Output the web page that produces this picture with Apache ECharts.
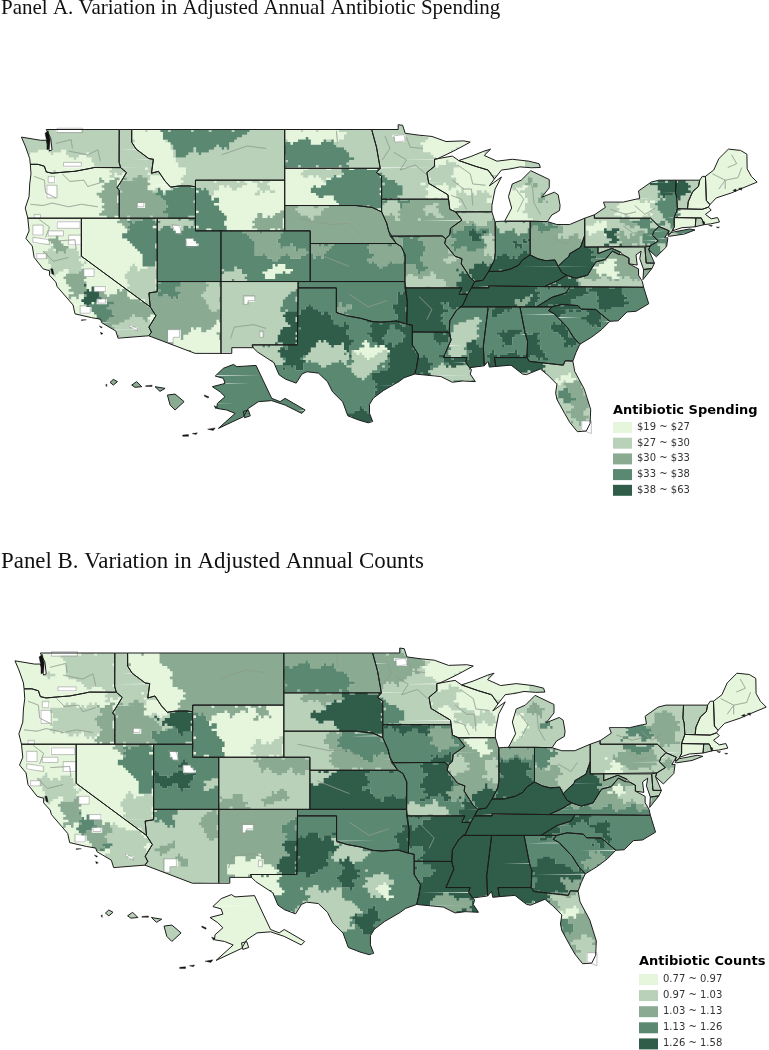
<!DOCTYPE html>
<html><head><meta charset="utf-8">
<style>html,body{margin:0;padding:0;background:#fff}#c{width:769px;height:1050px}</style>
<script src="https://cdn.jsdelivr.net/npm/echarts@6/dist/echarts.min.js"></script></head>
<body><div id="c"></div>
<script>
const titles=['Panel A. Variation in Adjusted Annual Antibiotic Spending','Panel B. Variation in Adjusted Annual Counts'];
const legendTitles=['Antibiotic Spending','Antibiotic Counts'];
const labelsA=['$19 ~ $27','$27 ~ $30','$30 ~ $33','$33 ~ $38','$38 ~ $63'];
const labelsB=['0.77 ~ 0.97','0.97 ~ 1.03','1.03 ~ 1.13','1.13 ~ 1.26','1.26 ~ 1.58'];
const classColors=['#e5f6dc','#b8d1b8','#8aab92','#5b8870','#2f5d4a'];
const stateNames=['WA','OR','CA','NV','ID','MT','WY','UT','AZ','CO','NM','ND','SD','NE','KS','OK','TX','MN','IA','MO','AR','LA','WI','IL','MI','IN','OH','KY','TN','MS','AL','GA','FL','SC','NC','VA','WV','MD','DE','PA','NJ','NY','CT','RI','MA','VT','NH','ME','AK','HI'];
const baseA=[1,0,0,0,1,1,0,3,2,3,1,1,0,2,3,3,3,1,2,2,4,3,0,2,1,3,2,4,4,3,3,3,1,3,3,2,4,1,2,1,3,1,0,1,0,1,0,0,3,2];
const baseB=[0,0,0,0,1,2,0,3,1,1,2,2,1,1,4,3,3,1,3,3,4,4,0,2,1,3,1,4,4,4,4,3,2,3,3,2,4,1,1,1,1,1,0,1,0,1,0,0,0,1];
// State outlines, [lon,lat,...]; AK and HI are given in their inset position.
const rings={
WA:[[-124.7,48.4,-123.2,48.15,-122.75,48.15,-122.5,47.3,-122.3,47.4,-122.4,48.3,-122.75,49,-117.03,49,-117.04,46.42,-116.92,45.99,-118.98,46,-119.3,45.93,-120.5,45.7,-121.2,45.65,-122.3,45.55,-122.75,45.65,-122.9,46.1,-123.4,46.25,-124,46.25,-124.05,46.7,-124.15,47,-124.4,47.7]],
OR:[[-124,46.25,-123.4,46.25,-122.9,46.1,-122.75,45.65,-122.3,45.55,-121.2,45.65,-120.5,45.7,-119.3,45.93,-118.98,46,-116.92,45.99,-116.46,45.6,-116.85,44.95,-117.2,44.4,-117.03,44.2,-117.03,42,-124.2,42,-124.4,42.8,-124.1,43.7,-124.05,44.7,-123.95,45.5]],
CA:[[-124.2,42,-120,42,-120,39,-114.6,35,-114.15,34.3,-114.7,33.4,-114.5,33,-114.72,32.72,-117.12,32.53,-117.3,33.1,-118.4,33.75,-118.5,34.03,-119.2,34.15,-120.5,34.45,-120.65,35.15,-121.9,36.6,-122,36.95,-122.5,37.5,-122.5,37.85,-123,38,-123.7,38.9,-123.85,39.8,-124.35,40.4,-124.1,41]],
NV:[[-120,42,-114.05,42,-114.05,36.2,-114.7,36.1,-114.6,35,-120,39]],
ID:[[-117.03,49,-116.05,49,-116.05,48,-115.7,47.45,-114.7,46.7,-114.35,46.65,-114.5,45.55,-113.95,45.7,-113.45,44.95,-113,44.45,-112.3,44.55,-111.5,44.55,-111.05,44.48,-111.05,42,-117.03,42,-117.03,44.2,-117.2,44.4,-116.85,44.95,-116.46,45.6,-116.92,45.99,-117.04,46.42]],
MT:[[-116.05,49,-104.05,49,-104.05,45,-111.05,45,-111.05,44.48,-111.5,44.55,-112.3,44.55,-113,44.45,-113.45,44.95,-113.95,45.7,-114.5,45.55,-114.35,46.65,-114.7,46.7,-115.7,47.45,-116.05,48]],
WY:[[-111.05,45,-104.05,45,-104.05,41,-111.05,41]],
UT:[[-114.05,42,-111.05,42,-111.05,41,-109.05,41,-109.05,37,-114.05,37]],
AZ:[[-114.05,37,-109.05,37,-109.05,31.33,-111.07,31.33,-114.72,32.72,-114.5,33,-114.7,33.4,-114.15,34.3,-114.6,35,-114.7,36.1,-114.05,36.2]],
CO:[[-109.05,41,-102.05,41,-102.05,37,-109.05,37]],
NM:[[-109.05,37,-103,37,-103.05,32,-106.6,32,-106.53,31.78,-108.2,31.78,-108.2,31.33,-109.05,31.33]],
ND:[[-104.05,49,-97.23,49,-96.85,47.6,-96.56,45.94,-104.05,45.94]],
SD:[[-104.05,45.94,-96.56,45.94,-96.85,45.6,-96.45,45.3,-96.45,43.5,-96.45,42.5,-97.2,42.85,-98.5,43,-104.05,43]],
NE:[[-104.05,43,-98.5,43,-97.2,42.85,-96.45,42.5,-96.05,41.6,-95.9,41,-95.3,40,-102.05,40,-102.05,41,-104.05,41]],
KS:[[-102.05,40,-95.3,40,-94.9,39.75,-94.6,39.1,-94.62,37,-102.05,37]],
OK:[[-103,37,-94.62,37,-94.43,35.4,-94.48,33.64,-95.3,33.88,-96.5,33.8,-97.2,33.85,-98.1,34.1,-99.2,34.3,-100,34.56,-100,36.5,-103,36.5]],
TX:[[-103,36.5,-100,36.5,-100,34.56,-99.2,34.3,-98.1,34.1,-97.2,33.85,-96.5,33.8,-95.3,33.88,-94.48,33.64,-94.04,33.55,-94.04,32,-93.55,31.2,-93.7,30.3,-93.85,29.7,-94.7,29.4,-95.1,29.1,-96.3,28.4,-97.1,27.8,-97.4,27.3,-97.4,26.6,-97.15,25.95,-97.5,25.85,-98.2,26.05,-99.1,26.4,-99.5,27.5,-100.3,28.3,-100.7,29.1,-101.4,29.77,-102.3,29.88,-102.7,29.7,-103.15,28.98,-104,29.3,-104.5,29.65,-104.9,30.6,-106.2,31.45,-106.53,31.78,-106.6,32,-103.05,32]],
MN:[[-97.23,49,-95.15,49,-95.15,49.38,-94.8,49.33,-94.6,48.7,-93.5,48.55,-92.5,48.45,-91.4,48.05,-90,48.1,-89.5,48,-90.8,47.3,-92.05,46.7,-92.3,46.65,-92.3,46.1,-92.9,45.6,-92.75,44.75,-91.25,43.85,-91.2,43.5,-96.45,43.5,-96.45,45.3,-96.85,45.6,-96.56,45.94,-96.85,47.6]],
IA:[[-96.45,43.5,-91.2,43.5,-91.1,42.7,-90.65,42.5,-90.15,41.85,-91.05,41.2,-91.1,40.7,-91.42,40.38,-91.7,40.6,-95.77,40.58,-95.9,41,-96.05,41.6,-96.45,42.5]],
MO:[[-95.77,40.58,-91.7,40.6,-91.42,40.38,-91.5,40,-90.7,39,-90.15,38.8,-90.2,38.4,-89.5,37.3,-89.15,37,-89.4,36.5,-89.7,36,-90.37,36,-90.15,36.5,-94.62,36.5,-94.62,39.1,-94.9,39.75,-95.3,40]],
AR:[[-94.62,36.5,-90.15,36.5,-90.37,36,-89.7,36,-90.1,35.1,-90.6,34.7,-91.1,33.9,-91.15,33,-94.04,33.02,-94.04,33.55,-94.48,33.64,-94.43,35.4]],
LA:[[-94.04,33.02,-91.15,33,-91,32.4,-91.6,31,-89.75,31,-89.85,30.65,-89.55,30.2,-89.4,30.05,-89.5,29.7,-89.1,29.1,-90.1,29.15,-90.9,29.05,-91.8,29.5,-92.3,29.55,-93.85,29.7,-93.7,30.3,-93.55,31.2,-94.04,32]],
WI:[[-92.3,46.65,-92.05,46.7,-90.9,46.9,-90.4,46.55,-89.1,46.1,-88.1,45.8,-87.6,45.1,-88,44.55,-87.05,45.25,-87.55,44.3,-87.8,43,-87.8,42.5,-90.65,42.5,-91.1,42.7,-91.2,43.5,-91.25,43.85,-92.75,44.75,-92.9,45.6,-92.3,46.1]],
IL:[[-90.65,42.5,-87.8,42.5,-87.55,41.7,-87.53,39.3,-87.6,38.7,-88.05,37.8,-88.5,37.1,-89.15,37,-89.5,37.3,-90.2,38.4,-90.15,38.8,-90.7,39,-91.5,40,-91.42,40.38,-91.1,40.7,-91.05,41.2,-90.15,41.85]],
MI:[[-86.8,41.76,-84.8,41.76,-83.45,41.73,-83.1,42.25,-82.5,42.6,-82.45,43,-82.6,43.85,-82.9,44.05,-83.9,43.65,-83.3,44.4,-83.3,45.05,-84.75,45.75,-85.5,45,-86.2,44.7,-86.5,43.7,-86.25,42.8],[-90.4,46.55,-89.5,46.85,-88.4,47.3,-87.9,47.45,-88.4,46.95,-87.4,46.5,-86.2,46.65,-84.9,46.5,-84.1,46.3,-84,46,-84.7,45.98,-85.6,46.05,-86.3,45.9,-87.05,45.8,-87.6,45.1,-88.1,45.8,-89.1,46.1]],
IN:[[-87.53,41.72,-87.2,41.75,-86.8,41.76,-84.8,41.76,-84.8,39.1,-85.4,38.7,-85.7,38.3,-86.3,38,-87.1,37.8,-88.05,37.8,-87.6,38.7,-87.53,39.3]],
OH:[[-84.8,41.76,-83.45,41.73,-82.7,41.5,-81.7,41.5,-80.52,42,-80.52,40.64,-80.85,39.7,-81.7,39.2,-81.75,39,-82.2,38.6,-82.6,38.2,-82.85,38.7,-83.6,38.65,-84.2,38.8,-84.8,39.1]],
KY:[[-89.15,37,-88.5,37.1,-88.05,37.8,-87.1,37.8,-86.3,38,-85.7,38.3,-85.4,38.7,-84.8,39.1,-84.2,38.8,-83.6,38.65,-82.85,38.7,-82.6,38.2,-82.3,37.7,-81.95,37.5,-82.7,37.05,-83.68,36.6,-88.05,36.65,-88.05,36.5,-89.4,36.5]],
TN:[[-89.4,36.5,-88.05,36.5,-88.05,36.65,-83.68,36.6,-81.68,36.59,-82,36.1,-83.1,35.75,-84.3,35,-85.6,35,-88.2,35,-90.3,35,-90.1,35.1,-89.7,36]],
MS:[[-90.3,35,-88.2,35,-88.1,34.9,-88.47,31.9,-88.4,30.35,-89.55,30.2,-89.85,30.65,-89.75,31,-91.6,31,-91,32.4,-91.15,33,-91.1,33.9,-90.6,34.7]],
AL:[[-88.2,35,-85.6,35,-85.18,32.85,-85,32.3,-85.05,31,-87.6,31,-87.5,30.3,-88,30.25,-88.1,30.7,-88.4,30.35,-88.47,31.9,-88.1,34.9]],
GA:[[-85.6,35,-84.3,35,-83.1,35,-83.35,34.7,-82.9,34.45,-81.9,33.4,-81.4,32.6,-80.9,32.05,-81.2,31.4,-81.45,30.72,-82.05,30.75,-82.2,30.4,-84.86,30.7,-85.05,31,-85,32.3,-85.18,32.85]],
FL:[[-87.6,31,-85.05,31,-84.86,30.7,-82.2,30.4,-82.05,30.75,-81.45,30.72,-81.3,29.9,-80.55,28.5,-80.05,26.9,-80.1,25.8,-80.4,25.2,-81.1,25.15,-81.7,25.9,-82.1,26.6,-82.7,27.7,-82.8,28.2,-82.7,28.9,-83.4,29.6,-84,30.1,-85.1,29.65,-85.4,29.7,-86.3,30.4,-87.5,30.3]],
SC:[[-83.1,35,-82.3,35.2,-81.05,35.1,-80.8,34.82,-79.67,34.8,-78.55,33.86,-79.2,33.2,-80,32.6,-80.9,32.05,-81.4,32.6,-81.9,33.4,-82.9,34.45,-83.35,34.7]],
NC:[[-84.3,35,-83.1,35.75,-82,36.1,-81.68,36.59,-75.9,36.55,-75.5,35.25,-76.5,34.65,-77.2,34.6,-77.9,33.9,-78.55,33.86,-79.67,34.8,-80.8,34.82,-81.05,35.1,-82.3,35.2,-83.1,35]],
VA:[[-83.68,36.6,-81.68,36.59,-75.9,36.55,-76,37,-76.3,37.5,-76.3,38,-77.05,38.4,-77.05,38.85,-77.5,39.1,-77.83,39.13,-78.35,39.4,-78.9,38.75,-79.65,38.55,-80.3,37.5,-81.2,37.25,-81.95,37.5,-82.7,37.05],[-75.25,38.03,-75.9,37.95,-75.95,37.15]],
WV:[[-81.95,37.5,-81.2,37.25,-80.3,37.5,-79.65,38.55,-78.9,38.75,-78.35,39.4,-77.83,39.13,-77.72,39.32,-78.4,39.62,-79.48,39.2,-79.48,39.72,-80.52,39.72,-80.52,40.64,-80.85,39.7,-81.7,39.2,-81.75,39,-82.2,38.6,-82.6,38.2,-82.3,37.7]],
MD:[[-79.48,39.72,-75.8,39.72,-75.7,38.46,-75.05,38.45,-75.25,38.03,-75.9,37.95,-76.2,38.8,-76.1,39.4,-76.5,39.1,-76.4,38.3,-77.05,38.4,-77.05,38.85,-77.5,39.1,-77.72,39.32,-78.4,39.62,-79.48,39.2]],
DE:[[-75.8,39.72,-75.4,39.8,-75.5,39.5,-75.05,38.45,-75.7,38.46]],
PA:[[-80.52,42,-79.76,42.27,-79.76,42,-75.35,42,-74.7,41.35,-75.1,40.95,-75.2,40.65,-74.75,40.2,-75.4,39.8,-80.52,39.72]],
NJ:[[-74.7,41.35,-73.9,41,-74.25,40.45,-74,40.45,-74.1,39.75,-74.9,38.95,-75.5,39.5,-75.4,39.8,-74.75,40.2,-75.2,40.65,-75.1,40.95]],
NY:[[-79.76,42.27,-78.9,42.85,-79.05,43.27,-77.5,43.27,-76.5,43.5,-76.2,43.55,-76.3,44.15,-75.3,44.85,-74.7,45,-73.35,45,-73.4,44,-73.3,43.6,-73.25,42.75,-73.5,42.05,-73.5,41.3,-73.65,41,-73.8,40.8,-74,40.7,-73.9,41,-74.7,41.35,-75.35,42,-79.76,42],[-74,40.6,-73.75,40.87,-72.3,41.15,-71.87,41.07,-72.7,40.75,-73.9,40.57]],
CT:[[-73.5,42.05,-71.8,42.02,-71.85,41.32,-72.9,41.25,-73.65,41,-73.5,41.3]],
RI:[[-71.8,42.02,-71.38,42.02,-71.12,41.5,-71.85,41.32]],
MA:[[-73.5,42.05,-73.25,42.75,-72.46,42.73,-71.3,42.7,-70.82,42.87,-70.6,42.65,-71.05,42.3,-70.6,41.95,-70.1,42.05,-69.95,41.7,-70.65,41.55,-71.12,41.5,-71.38,42.02,-71.8,42.02]],
VT:[[-73.35,45,-71.5,45,-71.6,44.5,-72.05,44.1,-72.4,43.3,-72.46,42.73,-73.25,42.75,-73.3,43.6,-73.4,44]],
NH:[[-71.5,45,-71.3,45.3,-71.05,45.3,-70.98,43.4,-70.7,43.07,-70.82,42.87,-71.3,42.7,-72.46,42.73,-72.4,43.3,-72.05,44.1,-71.6,44.5]],
ME:[[-71.05,45.3,-70.4,45.8,-70,46.7,-69.25,47.45,-68.3,47.35,-67.8,47.05,-67.78,45.9,-67.45,45.3,-67,44.85,-68.2,44.35,-69,44,-70.2,43.6,-70.7,43.07,-70.98,43.4]],
AK:[[-109.5,29.54,-108.86,30.15,-108.07,30.46,-107.8,30.28,-106.3,30.38,-105.07,27.78,-104.41,27.52,-104.02,27.78,-102.45,26.86,-102.71,26.59,-104.02,27.25,-105.07,27.6,-106.11,27.52,-106.9,26.99,-107.29,26.33,-109.25,25.41,-107.94,26.59,-108.6,26.86,-109.38,26.99,-109.33,27.38,-108.73,27.91,-109.12,28.3,-109.72,28.7,-108.73,28.96,-108.86,29.36],[-107.3,26.75,-106.9,26.85,-106.75,26.4,-107.2,26.25]],
HI:[[-113.25,28.04,-112.65,28.12,-111.94,27.52,-112.65,26.86,-113.04,27.25],[-114.22,28.7,-113.43,28.57,-113.83,28.33],[-116.05,28.83,-115.66,29.1,-115.26,28.7,-115.79,28.65],[-117.75,29.04,-117.49,29.28,-117.17,29.1,-117.49,28.83]]
};
// Black-looking islands and sounds.
const islands=[[-122.85,48.7,-122.6,48.9,-122.45,48.2,-122.5,47.5,-122.7,47.4,-122.7,48],[-112.05,24.88,-111.6,24.92,-111.6,24.78,-112.05,24.78],[-111.3,25,-110.9,25.06,-111,24.92],[-110.1,25.35,-109.5,25.45,-109.65,25.25],[-110.35,28.05,-110,27.9,-110.05,27.8,-110.35,27.95],[-109.6,27.2,-109.35,27.1,-109.45,26.95],[-118.1,28.85,-118,28.9,-118,28.7],[-114.95,28.78,-114.45,28.82,-114.45,28.72,-114.95,28.72],[-120,33.98,-119.6,33.98,-119.6,33.92,-120,33.92],[-118.6,33.5,-118.35,33.4,-118.45,33.33],[-118.5,33,-118.3,32.9,-118.45,32.82],[-68.9,44.2,-68.65,44.3,-68.65,44.1],[-68.45,44.35,-68.2,44.4,-68.22,44.2],[-71.3,41.75,-71.1,41.7,-71.2,41.45],[-70.8,41.45,-70.5,41.42,-70.6,41.35],[-70.2,41.3,-69.95,41.3,-70.05,41.22],[-122.4,38,-122.25,38,-122.15,37.55,-122.3,37.6]];
// Holes without data, common to both panels.
const holes=[
['WA',-121.4,46.4,-120,46.4,-120,46.1,-121.4,46.1],['WA',-121.9,49.1,-119.9,49.1,-119.9,48.75,-121.9,48.75],
['OR',-122.6,45.3,-122.1,45.3,-122.1,44.8,-122.6,44.8],['OR',-122.7,44.6,-121.9,44.6,-121.9,43.6,-122.7,43.6],['OR',-123.7,42.3,-123.2,42.3,-123.2,42,-123.7,42],
['CA',-121.9,41.72,-120.1,41.72,-120.1,41.2,-121.9,41.2],['CA',-123.8,41.46,-123,41.46,-123,40.67,-123.8,40.67],['CA',-122.6,41,-121.4,41,-121.4,40.6,-122.6,40.6],['CA',-121,40.67,-120,40.67,-120,39.9,-121,39.9],['CA',-123.8,40.5,-122.5,40.3,-122.5,39.9,-123.8,40.1],['CA',-123.5,39.2,-122.7,39.2,-122.7,38.8,-123.5,38.8],['CA',-119.8,38,-119,38,-119,37.4,-119.8,37.4],['CA',-120.1,35.1,-119.3,35.1,-119.3,34.5,-120.1,34.5],['CA',-119,36.6,-118.1,36.6,-118.1,36.2,-119,36.2],['CA',-118.7,35.7,-118.1,35.7,-118.1,35.3,-118.7,35.3],['CA',-116.2,33.6,-115.6,33.3,-115.6,33.1,-116.2,33.4],
['UT',-112.9,41.5,-112.3,41.4,-112.1,40.7,-112.6,40.8],['UT',-111.8,40.4,-111.3,40.4,-110.8,39.8,-111.7,39.7],
['ID',-115.6,43.3,-115.1,43.3,-115.1,42.9,-115.6,42.9],
['AZ',-113.3,33.2,-112.3,33.2,-112.3,32.6,-112.8,32.6,-112.8,32.1,-113.3,32.2],
['NM',-107.3,35.9,-106.4,35.9,-106.4,35.5,-106.9,35.5,-106.9,35.2,-107.3,35.2],['NM',-106,33.1,-105.7,33.1,-105.7,32.6,-106,32.6],
['MN',-95.5,48.5,-94.7,48.6,-94.6,48.1,-95.4,48],
['FL',-80.75,26,-80,26,-80,25,-80.75,25.3]
];
// Thin grey service-area lines.
const areaLines=[
[-122,47.9,-120.8,48.2,-120.7,47.5],[-121,47.3,-119.5,47,-118.7,47.4,-118.5,46.5],
[-124,43.1,-123,43,-122.3,43.2,-121,42.9,-120,43.1,-118.7,42.9],[-123.7,45.3,-122.9,45,-122.8,44,-122,43.6],[-121.5,45.5,-120.9,44.9,-119.8,45,-119.5,44.5,-118.5,44.8],
[-123.3,41.9,-122.5,41.3,-122.8,40.5],[-122,40.2,-120.5,40.3,-120.4,39.5],[-123,39.4,-122.2,38.6,-121,38.9],
[-95.5,47.2,-94.5,46.6,-95,45.8,-93.8,46.2,-93,45.5],[-96.2,48.5,-95.8,47.5,-96.4,46.6],[-94.5,48.4,-94.2,47.6,-93.2,47.5],
[-90.5,46.2,-89.5,45.5,-89.3,44.7,-88.3,44.6],[-90.9,45,-90,44.3,-89.4,44.3,-89.3,43],[-91,43.8,-90.2,43.5,-89.8,42.7],
[-86,44.4,-85.3,43.5,-85.8,42.5],[-84.9,45.3,-84.6,44.3,-84.5,43.2,-84,42.3],
[-70.5,45.5,-69.5,45,-68.5,45.2,-68.2,46],[-69.5,44.3,-69.5,45,-70,44.3],[-69,47,-68.6,46.3,-69.3,46],
[-103,42,-100.5,41.5,-99,41.6,-98,40.6],[-99,36,-97.5,35,-96,35.5],[-109,47,-107,47.7,-105.5,47.5],[-100,48.9,-99.9,47.9],
[-93.5,35.8,-92.5,34.8,-92.9,34],[-105.5,33.3,-106.5,33.6,-108,33.4,-108.3,32.5],[-101.5,39.2,-100,38.6,-99,38.2],
[-76.6,43,-75.8,42.3,-75,42.8],[-78.5,42.7,-77.3,42.3,-76.5,42.5],[-77.5,41.4,-76.7,40.8,-76,41],[-83,40.5,-82,39.9,-81.5,40.6]
];
// Zones, [state, class, lon,lat,...]; later zones paint over earlier ones in their state.
const zonesA=[
['WA',0,-125,47.2,-121.4,47.3,-120.8,46.8,-119.3,46.9,-119,45.5,-125,45.5],
['OR',2,-118.5,45,-117,45,-117,41.9,-118.2,41.9,-118.4,43],['OR',1,-118,46.1,-116.8,46.1,-116.8,45.3,-117.6,45.4],
['NV',3,-116.6,41.07,-115.8,41.85,-114,41.85,-114,37.9,-114.9,38.15,-115.15,39.2,-115.8,39.2,-115.9,40.1,-116.6,40.5],['NV',2,-117,42.1,-114,42.1,-114,41.85,-115.8,41.85,-116.6,41.1,-117,41.3],['NV',1,-116.4,38,-115,38.2,-114,38,-114,35,-115.5,35.5,-116.4,36.5],
['CA',2,-122.5,40.2,-121.2,40.3,-121,39.4,-122.2,39.2],['CA',1,-123,39.4,-120.5,39.5,-119.5,38.3,-120.5,37.8,-122.5,37.7],['CA',2,-121.2,37.8,-120,37.8,-119.5,36.5,-120.3,35.5,-121,36.3],['CA',2,-118.9,36,-116.5,36.2,-114.5,34.9,-114.5,32.4,-117.5,32.4,-118.7,34.2],['CA',3,-119.1,35.2,-117.7,35.6,-117.5,34.3,-118.5,33.7,-119.3,34.3],['CA',1,-117.1,34.1,-114.5,34.1,-114.5,32.4,-117.4,32.4],['CA',4,-119.9,36.2,-119,36.8,-118.7,36.3,-118.7,35.4,-119.3,35.1,-119.9,35.6],
['ID',2,-117.2,45.1,-115.3,45.3,-114.6,44.9,-114.4,44.2,-113.9,43.8,-113.7,43.4,-112.8,43,-112.8,41.9,-117.2,41.9],['ID',3,-114.3,44,-113.4,44,-112.9,44.4,-112.3,44.6,-110.9,44.6,-110.9,41.9,-113.2,41.9,-113.2,42.5,-113.5,43.2],['ID',0,-114.8,45.7,-114.2,45.7,-113.4,45,-112.9,44.4,-113.4,44.1,-114.4,44.3,-114.8,45],
['MT',0,-116.1,49.1,-113.8,49.1,-113.2,48.3,-113,47,-112.4,46.5,-112,45.8,-111.9,44.8,-112.5,44.2,-114,45,-116.1,47.5],['MT',3,-114,49.1,-107.1,49.1,-107.2,48.3,-108.6,48.1,-108.5,47.6,-110.5,47.3,-112.2,46.9,-113,47.3,-113.1,48.3],
['WY',1,-111.1,45.1,-107.2,45.1,-107.2,44.5,-109.5,44.3,-110,44.1,-111.1,44.3],['WY',1,-106.3,45.1,-105.1,45.1,-105.2,44,-106.3,44],['WY',3,-111.1,44.3,-110.1,44.1,-109.4,43.2,-108.98,42.65,-108.4,41,-111.1,41],['WY',2,-105.8,42.2,-104,42.4,-104,41,-107,41],
['UT',1,-114.1,42.1,-111.4,42.1,-111.2,41.2,-114.1,41.2],
['AZ',1,-110.3,37,-109,37,-109,34.8,-110.3,34.8],['AZ',3,-114.1,37.1,-112.3,37.1,-112.3,35.8,-114.1,35.8],['AZ',0,-112.8,32.6,-111.2,33.2,-110.1,33.2,-109.1,34,-109,31.2,-111.3,31.2,-112.8,32],
['CO',2,-107.2,41.1,-104.4,41.1,-104.4,39,-106,39.1],['CO',2,-106,39.7,-102,39.7,-102.5,39,-105,38.8,-106.3,39],['CO',1,-109.1,38,-107.3,37.9,-107.3,36.9,-109.1,36.9],['CO',0,-105.5,38.4,-104.6,38.4,-103.6,37.9,-104.6,37.3,-105.5,37.5],
['NM',3,-104.5,35.1,-103.9,35.9,-103,36.2,-103,34.4,-103.9,34.4],['NM',4,-103.8,34.5,-103,34.7,-103,32,-105,32,-104.3,32.6,-103.9,33.5],
['ND',0,-104.1,49.1,-99.2,49.1,-99.5,48.3,-101,47.9,-104.1,48],['ND',3,-104.1,48,-102.5,48.2,-101.5,47.9,-99.9,48,-99.1,47.1,-98.7,45.9,-104.1,45.9],
['SD',1,-102.5,46,-99.5,46,-99.8,45.3,-101,45.1,-102.5,45.4],['SD',3,-99.6,46,-98.3,46.05,-96.4,45.9,-96.4,42.7,-99.5,42.7,-99.8,43.1,-100,43.6,-100.9,43.8,-102.1,44.1,-101.4,44.7,-100.6,45.1,-99.8,45.2],
['NE',1,-103,43.1,-100.8,43.1,-101,42.1,-103,42.2],
['KS',2,-102.1,40,-100.5,40,-100.4,39.4,-101,39.1,-102.1,39],['KS',2,-97.5,40,-95,40,-94.5,39,-95.5,38.3,-97.3,38.4],
['MN',0,-93.2,48.8,-89,48.3,-92,46.5,-93,47.2],['MN',3,-96.6,45.4,-95.8,45.3,-94.8,44,-94.9,43.4,-96.6,43.4],['MN',0,-93,44.6,-91.5,44.8,-91,43.4,-93,43.4],
['WI',1,-92.9,46.3,-90.7,46.3,-90.7,44.5,-92.9,44.5],['WI',1,-90.5,44,-88,44,-87.7,42.4,-90.5,42.4],
['MI',0,-87,44.5,-85.2,44.5,-85.2,43,-84.9,41.6,-87,41.6],['MI',2,-84.3,43.7,-83.5,43.8,-83.4,43.1,-84.3,43.1],['MI',2,-85.2,44.9,-84.4,44.9,-84.4,44.5,-85.2,44.5],['MI',0,-90.5,47.5,-86,47,-84.9,46,-90,45],['MI',1,-85.6,46.3,-84,46.4,-84,45.9,-85.6,45.9],
['IA',3,-96.5,43.6,-93.5,43.6,-94,43.2,-96.5,43.2],['IA',1,-96.5,43.2,-95,43.2,-95,42.1,-96.5,42.1],['IA',1,-93.2,43,-91.9,43,-91.9,42.1,-93.2,42.1],
['MO',3,-95,40.7,-93.2,40.7,-93.2,37.9,-94,37.9,-95,38.8],['MO',1,-90.9,40,-90,40,-90,38.4,-91.4,38.6],['MO',1,-94.8,37.4,-91.5,37.4,-91,36.4,-94.8,36.4],['MO',4,-90.4,37.9,-89.3,37.9,-89,35.9,-90.4,35.9],
['OK',4,-95.3,36,-94.4,36,-94.4,33.6,-95.5,33.8],['OK',2,-100,35.3,-99,35.3,-99,33.9,-100,33.9],
['TX',1,-107,32.1,-104.3,32,-104.3,30.5,-106,30.5],['TX',4,-103.2,34.7,-102.2,35,-101,34.7,-100.5,34,-99,33.3,-98.8,31,-100.2,32.2,-101,32.2,-102.4,31.5,-102.5,30.8,-103,30,-104.2,30.3,-104.3,32,-103.2,32],['TX',1,-102.3,31.6,-101.1,32.2,-100.2,32.2,-99.1,31.5,-99.3,30.7,-100.8,30.3,-102.3,30.8],['TX',4,-97.3,34,-93.9,33.7,-93.4,30,-94.5,29,-96.7,28.1,-97.2,29.2,-96.5,30,-95.6,30.8,-96.5,32,-97.5,32.8],['TX',3,-96.3,33.1,-95,33.4,-94.8,32.3,-96,31.9],['TX',1,-98.9,31.5,-96.5,31.8,-95.8,30.8,-97,30.1,-97.3,29.5,-98.5,29.5,-98.9,30.4],['TX',0,-98.1,32.1,-96.9,32,-96.1,31.6,-97,31,-98.4,31.2],['TX',4,-99.2,26.8,-97.8,26.9,-97,26.6,-97,25.7,-99.2,25.7],
['AR',3,-91.6,35.2,-90.3,35,-91,33,-91.6,33],
['LA',4,-92.3,33.1,-91,33.1,-91,32.3,-92.3,32.3],['LA',4,-93.9,31,-92.6,30.8,-92.5,29.5,-93.9,29.5],['LA',4,-91.7,31.1,-89.6,31.1,-89.6,30.3,-91.5,30.3],['LA',1,-92.5,30.3,-90.2,30.4,-89,29.9,-89,28.9,-92.5,29.3],
['MS',1,-91,33.4,-90,33.5,-89.7,34.3,-88.9,34.1,-88.7,33,-89.2,32.6,-89.1,31.9,-89.9,31.9,-90.2,31.2,-91.6,31,-91,32.4],['MS',4,-89.7,32.1,-88.3,32.1,-88.3,30,-89.7,30],
['AL',4,-87.8,35.1,-86.4,35.1,-86.5,34.5,-87.5,34.4],['AL',4,-87,32.9,-86.3,33.4,-85.7,33,-85.6,32.6,-86.5,31.9,-87.2,32.2],['AL',4,-88.2,31.3,-84.5,31.3,-84,30,-88.2,30],
['GA',4,-85.2,33,-84.4,33,-83.9,31.8,-83.6,31,-85.2,31],['GA',4,-83.3,33.9,-82.6,33.8,-81.6,33,-81,32,-82.2,32,-82.6,33],
['SC',4,-83.4,35.3,-80.9,35.3,-80.9,34.6,-82.2,34.5,-82.7,34.2,-83.4,34.2],['SC',4,-80.5,35,-79.5,35,-79,33.7,-80.2,33.5,-80.4,34.3],
['FL',4,-88,31.2,-83.3,31.2,-83.8,29.8,-88,29.5],['FL',2,-82.2,29.2,-81,29.5,-80,27,-81.2,26.9,-81.6,27.7],['FL',0,-82.8,29.5,-81.6,29.5,-81.6,28.9,-82.8,29],['FL',3,-82.8,28.4,-81.6,28.4,-81.6,27.5,-82.8,27.5],['FL',2,-82,27,-80.4,27,-80.4,25.8,-81.5,25.8],
['TN',3,-83.8,36.7,-81.6,36.7,-82,36,-84.4,35.1,-84.4,35.5],['TN',2,-85.8,35.7,-84.8,35.7,-84.8,35,-85.8,35],
['IL',1,-90.3,42.6,-87.4,42.6,-87.4,41.7,-89.5,41.5,-90.2,41.8],['IL',3,-91.2,40.9,-89.8,41.3,-88.3,41.3,-88.2,40.5,-88.5,39.6,-90.5,39.5],['IL',1,-88.4,40.5,-87.4,40.5,-87.4,39.1,-88.4,39.1],['IL',4,-89.4,41,-88.4,41.1,-88.5,40.4,-89.3,40.3],['IL',4,-89.5,38,-88,38.6,-87.9,36.9,-89.5,36.8],
['IN',1,-87.7,41.9,-84.7,41.9,-84.7,41,-85.8,40.8,-87.7,41.2],['IN',4,-88.1,38.7,-87,38.9,-85,39.3,-84.7,38,-88.1,37.6],['IN',4,-85.9,40.3,-85.1,40.3,-85.1,39.8,-85.9,39.8],
['OH',3,-84.9,41.8,-83,41.8,-83,41.1,-84.9,41.1],['OH',1,-82.4,41.7,-80.4,42.1,-80.4,40.4,-82.4,40.6],
['WV',3,-80,39.9,-77.5,39.9,-77.5,38.5,-80,38.5],
['VA',0,-79.8,38.2,-78.5,38.8,-77.8,38,-77.8,37.4,-79.5,37.3],['VA',4,-83.8,36.5,-81,36.5,-81,37.5,-82,37.6],['VA',1,-80.8,37.2,-76,37.2,-76,36.4,-80.8,36.4],
['NC',4,-84.4,35.3,-82,36.3,-81.3,36.7,-80.5,36.7,-80.7,35.6,-82,35.2,-84.4,34.9],['NC',4,-80.3,36.6,-77.4,36.6,-77.4,34.9,-79,34.7,-79.6,35.6],
['PA',0,-80.3,41.6,-78.9,41.6,-78.9,40.8,-80.3,40.8],['PA',2,-77.8,42,-75.9,42,-75.9,41.4,-77.8,41.4],['PA',3,-76.7,42,-75.2,42,-75.2,41.1,-76.3,41.2],['PA',3,-75.9,41.1,-74.7,41.4,-74.8,39.9,-75.9,40.2],['PA',2,-77.8,40.8,-76,40.8,-76,39.8,-77.8,39.8],['PA',4,-78.8,41.2,-77.9,41.2,-77.9,39.9,-78.8,39.9],
['NJ',1,-74.5,39.9,-73.9,39.9,-73.9,39,-74.5,39],
['NY',0,-78.1,43.4,-76,43.6,-75,43,-75.7,42,-77.5,42,-78,42.6],['NY',3,-75,43.7,-73.2,44,-73.2,40.5,-71.5,40.5,-71.5,41.5,-74.6,41.4,-74.5,42.6],['NY',4,-75.3,45.1,-73.2,45.1,-73.2,43.9,-74.4,43.9],
['VT',4,-73.5,45.1,-72.5,45.1,-72.4,44,-73,43.5,-73.5,43.5],['NH',1,-71.6,45.4,-71,45.4,-71,44.9,-71.6,44.9],['MA',3,-73.5,42.8,-72.9,42.8,-72.9,42.3,-73.5,42.3]
];
const zonesB=[
['WA',1,-121,49.1,-116.9,49.1,-116.9,46,-119.5,46.5,-120.5,47.3,-121,48],['WA',1,-122.4,47.6,-121.5,47.6,-121.5,47.2,-122.4,47.2],
['OR',1,-121.8,45,-118.3,45,-118.3,42.7,-119,42.6,-121.8,42.9],['OR',2,-118.3,45,-117,45,-117,41.9,-118.3,41.9],['OR',1,-118,46.1,-116.8,46.1,-116.8,45.3,-117.6,45.4],
['NV',3,-116.6,41.07,-115.8,41.85,-114,41.85,-114,37.9,-114.9,38.15,-115.15,39.2,-115.8,39.2,-115.9,40.1,-116.6,40.5],['NV',2,-117,42.1,-114,42.1,-114,41.85,-115.8,41.85,-116.6,41.1,-117,41.3],['NV',1,-116.4,38,-115,38.2,-114,38,-114,35,-115.5,35.5,-116.4,36.5],
['CA',1,-123,39.4,-120.5,39.5,-119.5,38.3,-120.5,37.8,-122.5,37.7],['CA',2,-121.2,37.8,-120,37.8,-119.5,36.5,-120.3,35.5,-121,36.3],['CA',2,-119.1,36,-117.5,36.2,-117.5,34.3,-118.5,33.7,-119.3,34.3],['CA',1,-117.5,35.8,-116,35.5,-114.5,34.9,-114.5,32.4,-117.5,32.4],['CA',3,-119.9,36.2,-119,36.8,-118.7,36.3,-118.7,35.4,-119.3,35.1,-119.9,35.6],['CA',3,-118.2,34.4,-117.5,34.4,-117.5,33.8,-118.2,33.8],
['ID',2,-117.2,45.1,-115.3,45.3,-114.6,44.9,-114.4,44.2,-113.9,43.8,-113.7,43.4,-112.8,43,-112.8,41.9,-117.2,41.9],['ID',3,-114,43.1,-111,43.1,-111,41.9,-114,41.9],['ID',4,-114.2,44,-113.3,43.9,-112.3,44.6,-111,44.6,-111,43.1,-112.2,43,-113,43.4],['ID',0,-114.8,45.7,-114.2,45.7,-113.4,45,-112.9,44.4,-113.4,44.1,-114.4,44.3,-114.8,45],
['MT',0,-116.1,49.1,-113.8,49.1,-113.2,48.3,-112.7,47,-112.2,46.5,-111.8,45.8,-111.9,44.7,-112.5,44.2,-114,45,-116.1,47.5],
['WY',2,-111.1,45.1,-107,45.1,-107,44.4,-109.5,44.3,-110,44.1,-111.1,44.3],['WY',2,-106.3,45.1,-105.2,45.1,-105.2,44,-106.3,44],['WY',3,-111.1,44.3,-110.1,44.1,-109.4,43.2,-108.98,42.65,-108.4,41,-111.1,41],['WY',1,-105.8,42.2,-104,42.4,-104,41,-107,41],
['UT',4,-114.1,39.7,-112.2,39.7,-112,40.4,-110.9,40.5,-111.1,38.6,-112.5,38.7,-114.1,38.9],['UT',1,-110,39.4,-109,39.4,-109,38.6,-110,38.6],
['AZ',3,-114.1,37.1,-112.3,37.1,-112.4,35.8,-114.1,35.9],['AZ',2,-110.4,36.5,-109,36.9,-109,34.8,-110.3,34.8],['AZ',2,-113.6,34.4,-112.6,34.4,-112.6,33.7,-113.6,33.7],['AZ',2,-112.2,33.5,-111.3,33.5,-111.3,32.7,-112.2,32.7],
['CO',2,-106,41.1,-102,41.1,-102,39.8,-106,39.9],['CO',2,-105.5,38.4,-103.8,38.4,-104,37.5,-105.5,37.5],['CO',2,-109.1,38,-107,38,-107,36.9,-109.1,36.9],
['NM',3,-104.4,35.5,-103.8,36,-103,36.3,-103,34.4,-103.9,34.4],['NM',4,-103.8,34.5,-103,34.7,-103,32,-105,32,-104.3,32.6,-103.9,33.5],['NM',0,-108.3,32.6,-107.4,33.3,-105.7,33.3,-104.8,32.5,-104.7,31.9,-108.3,31.7],
['ND',3,-104.1,48,-102.5,48.2,-101.5,47.9,-99.9,48,-99.1,47.1,-98.7,45.9,-104.1,45.9],
['SD',2,-102.5,46,-99.5,46,-99.8,45.3,-101,45.1,-102.5,45.4],['SD',4,-99.6,46,-98.3,46.05,-96.4,45.9,-96.4,42.7,-99.5,42.7,-99.8,43.1,-100,43.6,-100.9,43.8,-102.1,44.1,-101.4,44.7,-100.6,45.1,-99.8,45.2],
['NE',2,-101,43.1,-95.5,43.1,-95.5,40,-100,39.9,-100.4,41],['NE',3,-100,43,-96.6,43,-95.6,41,-97,41.3,-97.9,40.7,-98.8,41.5,-99.6,41.5],
['KS',1,-102.1,40,-100.2,40,-100.5,39.4,-102.1,38.9],['KS',3,-97.7,40,-94.5,40,-94.5,38,-97,37.9,-97.7,38.7],
['MN',2,-97.3,49.1,-93.4,49.1,-93.5,47.6,-94.5,47,-96.9,46.2],['MN',0,-93.2,48.8,-89,48.3,-92,46.5,-93,47.2],['MN',3,-96.6,45.4,-95.8,45.3,-94.8,44,-94.9,43.4,-96.6,43.4],
['WI',1,-92.9,46.3,-90.7,46.3,-90.7,44.8,-92.9,44.8],['WI',1,-90.8,44.6,-88,44.4,-87.7,43.5,-90.8,43.5],
['MI',0,-87,44.5,-85.5,44.5,-85.5,42.4,-87,42.4],['MI',3,-84.5,43.7,-83.4,43.7,-83.4,43.1,-84.5,43.1],['MI',0,-90.5,47.5,-86,47,-84.9,46,-90,45],['MI',2,-85.4,45,-84.3,45,-84.3,44.2,-85.4,44.2],
['IA',4,-96.5,43.6,-92.5,43.6,-92.8,42.9,-94.5,42.9,-96,43],['IA',2,-93.1,42.9,-91,43.5,-91,41.7,-92.7,41.7],['IA',4,-92.9,41.2,-91,41.2,-91,40.3,-92.9,40.3],
['MO',4,-93.3,40.7,-91.3,40.7,-91.1,37.9,-93.4,37.9],['MO',2,-91.3,38.6,-90,39,-90,37.4,-91.3,37.6],['MO',1,-94.8,37.4,-91.5,37.4,-91,36.4,-94.8,36.4],['MO',4,-90.4,37.9,-89.3,37.9,-89,35.9,-90.4,35.9],
['OK',4,-95,35.8,-94.3,35.8,-94.3,33.5,-95.5,33.8],
['TX',0,-107,32.1,-104.3,32,-104.3,30.5,-106,30.5],['TX',4,-103.2,35,-100.2,35,-100,33.8,-100.7,33.1,-101,32.1,-103,32,-103.2,32.7],['TX',1,-102.5,31,-100,30.8,-99,30.1,-98.3,29.4,-98.7,28.3,-99.9,27,-99.3,25.9,-101,27,-104,28.9,-102,30.2],['TX',4,-98.6,28.9,-96.9,29.5,-96.9,27.3,-97.2,26.9,-98.2,27.4],['TX',4,-99.7,33.3,-98.5,33.3,-98.4,31.1,-99.7,31.1],['TX',1,-100.1,34.6,-98,34.3,-97.5,33.5,-98.5,33,-100.1,33.2],['TX',1,-97.7,32,-96.2,32.2,-95.7,31,-96.8,30,-97.7,30.5],['TX',0,-96.9,31,-95.8,31.3,-95.7,30.5,-96.7,30.2],
['AR',3,-94.7,34.3,-93.5,34,-93.2,33,-94.7,33],['AR',3,-94.7,36.5,-92.7,36.5,-93,35.9,-94.7,35.7],
['LA',3,-94.1,33,-92.6,33,-92.8,31.6,-94.1,31.7],['LA',2,-92.6,30.5,-91,30.3,-90,30,-89.3,29.2,-92.6,29],
['GA',4,-84.8,33.3,-83.2,33.2,-82,32.3,-81.2,32.6,-81,30.5,-84.9,30.5],['GA',2,-82.6,31.6,-81.1,31.7,-81,30.5,-82.5,30.5],['GA',3,-85.7,35.1,-84.7,35.1,-84.7,33,-85.7,32.6],['GA',4,-84.2,35.1,-83,35.1,-83.2,34.6,-84.2,34.7],
['SC',4,-80.4,35,-79.5,35,-79.5,34,-80.3,34.2],['SC',2,-80.6,33.7,-79.4,33.6,-80,32.3,-81,32.4],
['FL',4,-88,31.2,-83.3,31.2,-83.8,29.8,-88,29.5],['FL',1,-83.5,30.4,-81,30.4,-81,29.3,-82.8,29],['FL',0,-82.7,29.3,-81.5,29.3,-81.5,28.6,-82.7,28.6],['FL',3,-82.9,28.6,-82,28.6,-82,27.3,-82.9,27.3],['FL',1,-82,27.1,-80,27.1,-80,25,-81.2,25],
['NC',4,-82.2,36.6,-80.7,36.6,-80.7,35.8,-82,35.9],['NC',4,-80.3,35.9,-79,35.9,-79,34.6,-79.6,34.8],['NC',4,-84.4,35.4,-83,36,-83,35,-84.4,34.9],
['VA',3,-83.8,37.2,-76,37.1,-76,36.4,-83.8,36.4],['VA',0,-79,38.7,-78,38.7,-78,38,-79,38.1],['VA',1,-78,39,-76,39,-76,37.5,-78,37.5],
['IL',0,-90,42.6,-88.3,42.6,-88.2,41.3,-89.8,41.4],['IL',1,-88.6,40.7,-87.4,40.7,-87.4,39.2,-88.6,39.2],['IL',4,-89.5,38.2,-88,38.8,-87.9,36.9,-89.5,36.8],['IL',1,-91.5,41.2,-90.1,41.3,-90,39.8,-91.5,39.8],
['IN',2,-87.7,41.9,-84.7,41.9,-84.7,41,-87.7,41],['IN',4,-87.5,40.8,-85.5,40.8,-85,39.3,-84.7,38,-88.1,37.6,-87.6,39.3],
['OH',3,-84.9,41.8,-83,41.8,-83.4,41,-84,40.4,-84.9,40],['OH',2,-84.9,40.2,-83,40.3,-82.7,38,-84.9,38],
['WV',2,-79.9,40,-77.5,40,-77.5,38.5,-79.9,38.5],
['PA',3,-78,42,-75.5,42,-75.5,41.4,-78,41.4],['PA',2,-78.5,41.4,-75.5,41.4,-75.5,40,-78.5,40.2],['PA',0,-79,40.8,-78.1,40.8,-78.3,39.7,-79.4,39.7],
['NY',3,-77.9,43.5,-75.8,43.5,-75.8,42.5,-77.9,42.5],['NY',2,-75.8,44.4,-73.8,44.4,-73.8,41.8,-75.8,42.2],
['NJ',2,-75.2,40.7,-74.2,40.7,-74.2,40,-75.2,40],
['MI',1,-85.6,46.3,-84,46.4,-84,45.9,-85.6,45.9]
];
const G={A:{lon0:-126.38,sx:12.75,sy:12.67,top:100,h:340,lat49:129.5},B:{lon0:-125.85,sx:13.02,sy:13.03,top:630,h:370,lat49:653}};
const STEP=0.2;

function pts(a,from){const r=[];for(let i=from||0;i+1<a.length;i+=2)r.push([a[i],a[i+1]]);return r;}
function inside(p,x,y){let c=false;for(let i=0,j=p.length-1;i<p.length;j=i++){const a=p[i],b=p[j];if((a[1]>y)!==(b[1]>y)&&x<(b[0]-a[0])*(y-a[1])/(b[1]-a[1])+a[0])c=!c;}return c;}
function clipHalf(poly,test,cut){const out=[];for(let i=0;i<poly.length;i++){const a=poly[i],b=poly[(i+1)%poly.length];const ia=test(a),ib=test(b);if(ia)out.push(a);if(ia!==ib)out.push(cut(a,b));}return out;}
function clipRect(poly,x0,x1,y0,y1){
 const cx=v=>(a,b)=>[v,a[1]+(b[1]-a[1])*(v-a[0])/(b[0]-a[0])];
 const cy=v=>(a,b)=>[a[0]+(b[0]-a[0])*(v-a[1])/(b[1]-a[1]),v];
 let r=clipHalf(poly,p=>p[0]>=x0,cx(x0));if(r.length)r=clipHalf(r,p=>p[0]<=x1,cx(x1));
 if(r.length)r=clipHalf(r,p=>p[1]>=y0,cy(y0));if(r.length)r=clipHalf(r,p=>p[1]<=y1,cy(y1));return r;}
// Zone edges are roughened so that they follow irregular service-area borders rather than straight chords.
function roughX(x,y){return x+0.22*Math.sin(y*4.3+x*1.1)+0.12*Math.sin(y*11.7-x*3.1);}
function roughY(x,y){return y+0.2*Math.sin(x*3.7-y*1.3)+0.11*Math.sin(x*10.3+y*2.9);}
function buildClasses(base,zones){
 const byClass=[[],[],[],[],[]];
 stateNames.forEach((st,si)=>{
  const zs=zones.filter(z=>z[0]===st).map(z=>({c:z[1],p:pts(z,2),rough:true}));
  holes.filter(h=>h[0]===st).forEach(h=>zs.push({c:-1,p:pts(h,1),rough:false}));
  rings[st].forEach(flat=>{
   const ring=pts(flat);const xs=ring.map(p=>p[0]),ys=ring.map(p=>p[1]);
   const ix0=Math.floor(Math.min(...xs)/STEP),ix1=Math.ceil(Math.max(...xs)/STEP),iy0=Math.floor(Math.min(...ys)/STEP),iy1=Math.ceil(Math.max(...ys)/STEP);
   for(let iy=iy0;iy<iy1;iy++){
    const yb=iy*STEP-0.006,yt=(iy+1)*STEP+0.006;
    let run=null;const flush=end=>{if(run&&run.c>=0){const q=clipRect(ring,run.s*STEP,end*STEP,yb,yt);if(q.length>2){q.push(q[0]);byClass[run.c].push([q]);}}};
    for(let ix=ix0;ix<ix1;ix++){
     const x=(ix+.5)*STEP,y=(iy+.5)*STEP;let c=base[si];
     if(clipRect(ring,ix*STEP,(ix+1)*STEP,yb,yt).length<3)c=-2;
     else for(let k=zs.length-1;k>=0;k--){const z=zs[k];const px=z.rough?roughX(x,y):x,py=z.rough?roughY(x,y):y;if(inside(z.p,px,py)){c=z.c;break;}}
     if(!run||run.c!==c){flush(ix);run={c,s:ix};}
    }
    flush(ix1);
   }
  });
 });
 return {type:'FeatureCollection',features:byClass.map((polys,i)=>({type:'Feature',properties:{name:'c'+i},geometry:{type:'MultiPolygon',coordinates:polys}}))};
}
function closed(a){const p=pts(a);p.push(p[0]);return p;}
function thereAndBack(a){const p=pts(a);return p.concat(p.slice(0,-1).reverse());}
function outlineJson(){
 const f=[{type:'Feature',properties:{name:'areas'},geometry:{type:'MultiPolygon',coordinates:areaLines.map(h=>[thereAndBack(h)])}},
 {type:'Feature',properties:{name:'holes'},geometry:{type:'MultiPolygon',coordinates:holes.map(h=>[closed(h.slice(1))])}},
 {type:'Feature',properties:{name:'islands'},geometry:{type:'MultiPolygon',coordinates:islands.map(h=>[closed(h)])}}];
 stateNames.forEach(s=>f.push({type:'Feature',properties:{name:s},geometry:{type:'MultiPolygon',coordinates:rings[s].map(r=>[closed(r)])}}));
 return {type:'FeatureCollection',features:f};
}
echarts.registerMap('fillA',buildClasses(baseA,zonesA));
echarts.registerMap('fillB',buildClasses(baseB,zonesB));
const ol=outlineJson();
echarts.registerMap('lineA',ol);echarts.registerMap('lineB',JSON.parse(JSON.stringify(ol)));
function bounds(g){const lon1=g.lon0+769/g.sx,latT=49+(g.lat49-g.top)/g.sy,latB=49-(g.top+g.h-g.lat49)/g.sy;return [[g.lon0,latT],[lon1,latB]];}
function mapSeries(name,g,z,extra){return Object.assign({type:'map',map:name,silent:true,roam:false,z,left:0,top:g.top,width:769,height:g.h,boundingCoords:bounds(g),aspectScale:g.sx/g.sy,selectedMode:false,label:{show:false},emphasis:{disabled:true}},extra);}
const fillData=[0,1,2,3,4].map(i=>({name:'c'+i,value:i}));
const clear='rgba(0,0,0,0)';
const lineExtra={itemStyle:{areaColor:clear,borderColor:'#1c1c1c',borderWidth:1},
 data:[{name:'areas',value:0,itemStyle:{areaColor:clear,borderColor:'#8f9a8f',borderWidth:0.5}},{name:'holes',value:0,itemStyle:{areaColor:clear,borderColor:'#9a9a9a',borderWidth:0.6}},{name:'islands',value:0,itemStyle:{areaColor:'#111',borderColor:'#111',borderWidth:0.4}}]};
const fillExtra={data:fillData,itemStyle:{borderWidth:0}};
function vm(labels,left,top,idx,gap){return {type:'piecewise',seriesIndex:idx,left,top,orient:'vertical',inverse:true,itemWidth:19,itemHeight:11,itemGap:gap,align:'left',hoverLink:false,selectedMode:false,padding:0,itemSymbol:'rect',textGap:5,textStyle:{color:'#333',fontFamily:'DejaVu Sans',fontSize:10},pieces:labels.map((l,i)=>({value:i,label:l,color:classColors[i]})),outOfRange:{color:'#fff'}};}
const titleStyleA={fontFamily:'Liberation Serif',fontWeight:'normal',fontSize:21,color:'#111'};
const titleStyleB={fontFamily:'Liberation Serif',fontWeight:'normal',fontSize:22.9,color:'#111'};
const legendStyle={fontFamily:'DejaVu Sans',fontWeight:'bold',fontSize:13,color:'#000'};
const chart=echarts.init(document.getElementById('c'),null,{renderer:'canvas'});
chart.setOption({animation:false,backgroundColor:'#fff',
 title:[{text:titles[0],left:1,top:-2,padding:0,textStyle:titleStyleA},{text:titles[1],left:1,top:550,padding:0,textStyle:titleStyleB},
 {text:legendTitles[0],left:613,top:404,padding:0,textStyle:legendStyle},{text:legendTitles[1],left:639,top:955,padding:0,textStyle:legendStyle}],
 visualMap:[vm(labelsA,613,422,0,4.7),vm(labelsB,639,974,2,5.1)],
 series:[mapSeries('fillA',G.A,1,fillExtra),mapSeries('lineA',G.A,2,lineExtra),mapSeries('fillB',G.B,1,fillExtra),mapSeries('lineB',G.B,2,lineExtra)]
});
</script></body></html>
